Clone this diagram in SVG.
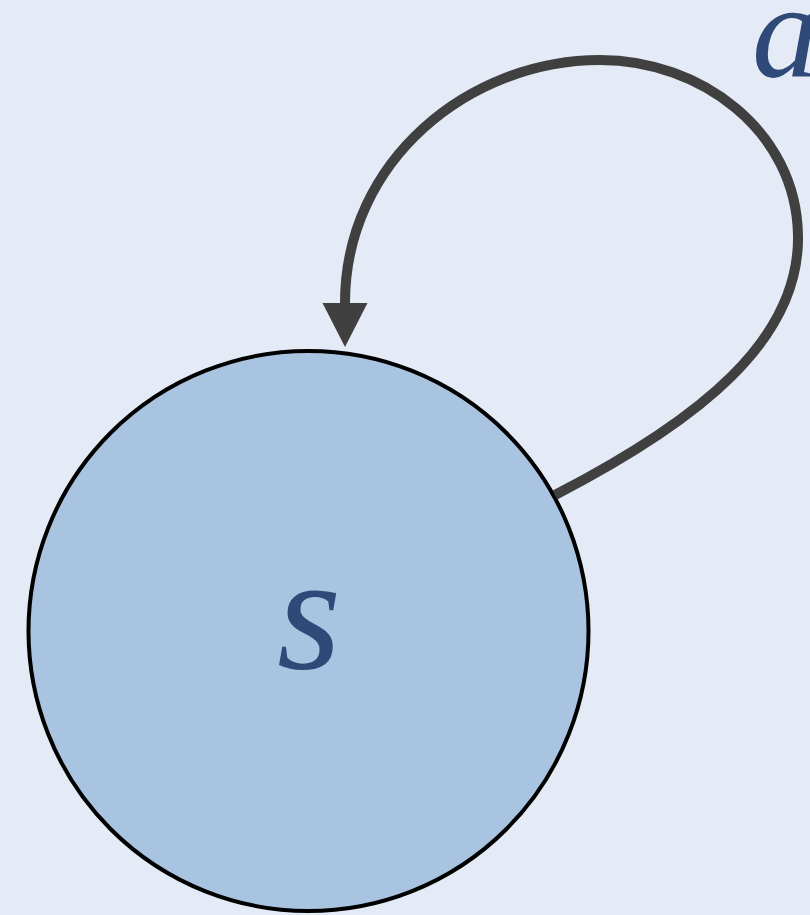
<svg xmlns="http://www.w3.org/2000/svg" width="810" height="915" viewBox="0 0 810 915">
<style>
.node{fill:#A9C4E0;stroke:#000;stroke-width:4}
.lbl{font-family:"Liberation Serif","DejaVu Serif",serif;font-style:italic;fill:#2F4A78}
.edge{fill:none;stroke:#404040;stroke-width:10}
</style>
<defs>
<marker id="arr" markerUnits="userSpaceOnUse" markerWidth="50" markerHeight="50" refX="0" refY="0" viewBox="0 -25 46 50" orient="auto">
<path d="M0,-22.5 L44,0 L0,22.5 z" fill="#404040"/>
</marker>
</defs>
<rect width="810" height="915" fill="#E4EBF6"/>
<g id="node-s">
<circle class="node" cx="308.5" cy="631" r="280"/>
<text class="lbl" x="309" y="668" font-size="165" text-anchor="middle">s</text>
</g>
<g id="connectors">
<path class="edge" d="M555,495 C700,420 800,340 798,235 C796,130 700,60 600,60 C470,60 345,160 345,303" marker-end="url(#arr)"/>
<text class="lbl" x="752" y="77" font-size="135">a</text>
</g>
</svg>
